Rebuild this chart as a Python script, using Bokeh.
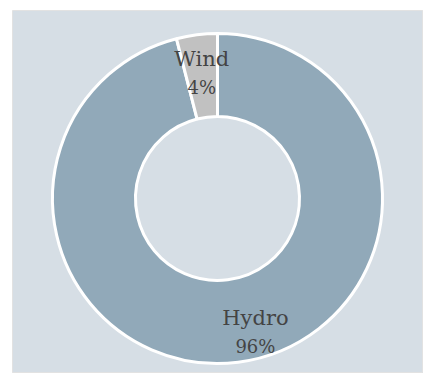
import math
from bokeh.plotting import figure
from bokeh.models import ColumnDataSource
from bokeh.core.properties import value
from bokeh.embed import file_html
from bokeh.resources import INLINE

categories = ["Hydro", "Wind"]
shares = [96, 4]
pct_labels = ["96%", "4%"]
colors = ["#91a9b9", "#c1c1c1"]

total = sum(shares)
starts, ends, mids = [], [], []
a = math.pi / 2
for s in shares:
    sweep = 2 * math.pi * s / total
    starts.append(a)
    ends.append(a - sweep)
    mids.append(a - sweep / 2)
    a -= sweep

src = ColumnDataSource(dict(cat=categories, share=shares, start=starts, end=ends, color=colors))

p = figure(width=423, height=373, output_backend="svg", toolbar_location=None,
           x_range=(-205, 206), y_range=(-175, 188),
           min_border_left=12, min_border_top=10, min_border_right=0, min_border_bottom=0,
           border_fill_color="white", background_fill_color="#d6dee5",
           outline_line_color="#e2e2e2")
p.axis.visible = False
p.grid.visible = False

p.annular_wedge(x=0, y=0, inner_radius=82, outer_radius=165,
                start_angle="start", end_angle="end", direction="clock",
                fill_color="color", line_color="white", line_width=3, source=src)

# label anchor points: polar at mid-angle with small nudges
label_r = [135, 126]
nudge_x = [21, 0]
lx = [label_r[i] * math.cos(mids[i]) + nudge_x[i] for i in range(len(shares))]
ly = [label_r[i] * math.sin(mids[i]) for i in range(len(shares))]

p.text(x=lx, y=[v + 14 for v in ly], text=categories, text_align="center",
       text_baseline="middle", text_font=value("DejaVu Serif"),
       text_font_size="21px", text_color="#444444")
p.text(x=lx, y=[v - 14 for v in ly], text=pct_labels, text_align="center",
       text_baseline="middle", text_font=value("DejaVu Serif"),
       text_font_size="18px", text_color="#444444")

open("out.html", "w").write(file_html(p, INLINE))
